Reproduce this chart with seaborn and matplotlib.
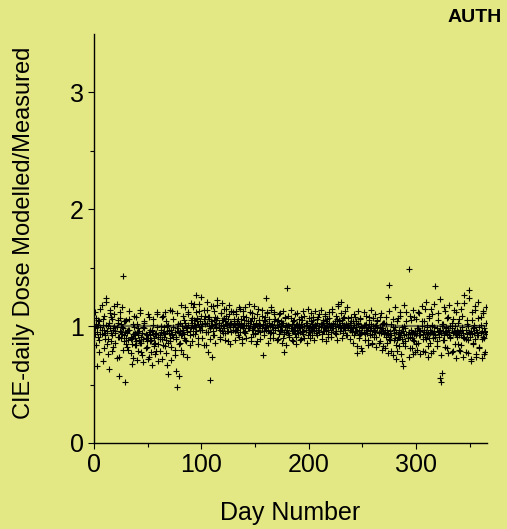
import pandas as pd
import matplotlib.pyplot as plt
import seaborn as sns

# Day numbers (x) and modelled/measured ratios, three readings per day
days = list(range(1, 366))

ratio_a = [
    0.98, 1.02, 0.95, 0.91, 1.04, 0.99, 0.93, 1.06, 0.97, 0.94,
    1.01, 0.96, 0.89, 1.03, 0.98, 1.08, 0.92, 0.97, 1.00, 0.94,
    0.99, 1.05, 0.91, 0.96, 1.02, 0.93, 0.98, 1.04, 0.95, 0.90,
    0.94, 0.88, 0.97, 0.91, 0.85, 0.93, 0.99, 0.90, 0.87, 0.95,
    0.92, 0.96, 0.86, 0.91, 0.94, 0.89, 0.98, 0.93, 0.87, 0.90,
    0.95, 0.92, 0.88, 0.97, 0.93, 0.90, 0.86, 0.94, 0.99, 0.91,
    0.92, 0.97, 0.89, 0.95, 0.99, 0.93, 0.88, 0.96, 1.01, 0.94,
    0.90, 0.97, 0.93, 0.99, 0.95, 0.91, 0.98, 1.02, 0.94, 0.96,
    0.92, 1.00, 0.97, 0.93, 1.03, 0.98, 0.95, 1.01, 0.96, 0.99,
    1.03, 0.98, 1.05, 1.01, 0.96, 1.07, 1.02, 0.99, 1.04, 1.00,
    0.97, 1.06, 1.02, 0.95, 1.03, 1.08, 1.00, 0.98, 1.04, 1.01,
    0.96, 1.05, 1.02, 0.99, 1.07, 1.03, 0.97, 1.01, 1.05, 1.00,
    0.98, 1.04, 1.02, 0.96, 1.06, 1.01, 0.99, 1.03, 0.97, 1.02,
    1.01, 0.97, 1.04, 0.99, 1.02, 0.95, 1.03, 1.00, 0.98, 1.05,
    0.96, 1.01, 1.03, 0.98, 1.00, 1.04, 0.97, 1.02, 0.99, 0.94,
    1.03, 1.00, 0.97, 1.05, 1.01, 0.98, 1.02, 0.96, 1.04, 0.99,
    1.01, 0.97, 1.03, 1.00, 0.95, 1.02, 0.99, 1.04, 0.98, 1.01,
    0.99, 1.02, 0.96, 1.00, 0.97, 1.03, 0.95, 0.99, 1.01, 0.97,
    0.94, 1.00, 0.98, 1.02, 0.96, 0.99, 0.93, 1.01, 0.97, 1.00,
    0.98, 0.95, 1.02, 0.99, 0.96, 1.00, 0.97, 1.03, 0.98, 0.95,
    1.00, 0.97, 1.02, 0.99, 0.96, 1.01, 0.98, 1.03, 0.97, 1.00,
    0.99, 1.02, 0.96, 1.01, 0.98, 1.04, 1.00, 0.97, 1.02, 0.99,
    1.01, 0.98, 1.03, 1.00, 0.96, 1.02, 0.99, 1.05, 1.01, 0.98,
    1.03, 0.99, 1.01, 0.97, 1.02, 1.00, 0.98, 1.03, 0.99, 0.96,
    0.98, 1.01, 0.95, 0.99, 0.96, 1.02, 0.97, 0.93, 1.00, 0.98,
    0.95, 1.01, 0.97, 0.94, 0.99, 1.02, 0.96, 0.98, 0.93, 1.00,
    0.97, 0.95, 1.01, 0.98, 0.94, 0.99, 0.96, 1.02, 0.97, 0.93,
    0.95, 0.91, 0.97, 0.93, 0.89, 0.96, 0.92, 0.99, 0.94, 0.90,
    0.95, 0.88, 0.93, 0.97, 0.91, 0.94, 0.89, 0.96, 0.92, 0.98,
    0.93, 0.90, 0.95, 0.91, 0.97, 0.94, 0.88, 0.93, 0.96, 0.92,
    0.94, 0.98, 0.92, 0.96, 1.00, 0.93, 0.97, 0.91, 0.95, 0.99,
    0.94, 0.90, 0.97, 0.95, 1.01, 0.93, 0.96, 0.92, 0.98, 0.95,
    0.91, 0.97, 0.94, 1.00, 0.96, 0.92, 0.95, 0.99, 0.93, 0.97,
    0.95, 0.91, 0.98, 0.94, 0.96, 1.00, 0.93, 0.97, 0.95, 0.92,
    0.96, 0.92, 0.99, 0.94, 0.90, 0.97, 0.93, 1.00, 0.95, 0.91,
    0.96, 0.93, 0.98, 0.94, 0.89, 0.97, 0.95, 0.92, 0.99, 0.94,
    0.96, 0.91, 0.98, 0.95, 0.93,
]

ratio_b = [
    1.12, 0.84, 0.99, 1.05, 0.78, 0.93, 1.18, 1.01, 0.81, 0.89,
    1.21, 0.96, 0.76, 1.03, 1.14, 0.87, 0.79, 0.98, 1.10, 0.86,
    1.19, 0.91, 0.74, 1.07, 0.95, 1.16, 0.80, 0.92, 1.04, 0.85,
    0.82, 0.97, 1.06, 0.77, 0.90, 0.73, 1.09, 0.94, 0.84, 1.02,
    0.79, 0.88, 1.11, 0.86, 0.75, 0.99, 1.04, 0.81, 0.92, 0.72,
    1.08, 0.87, 0.78, 0.96, 1.01, 0.83, 0.76, 0.93, 1.10, 0.85,
    0.79, 0.95, 1.08, 0.84, 0.91, 1.12, 0.77, 1.00, 0.86, 0.97,
    1.14, 0.82, 0.92, 1.06, 0.75, 0.89, 1.11, 0.96, 0.85, 1.03,
    0.80, 0.94, 1.09, 0.90, 1.16, 0.87, 0.98, 1.12, 0.84, 1.05,
    0.87, 1.16, 1.00, 0.93, 1.12, 1.06, 0.85, 1.19, 0.97, 1.09,
    0.90, 1.14, 1.03, 0.84, 1.21, 0.95, 1.08, 0.89, 1.17, 1.01,
    0.92, 1.13, 0.86, 1.05, 1.18, 0.98, 0.91, 1.11, 1.20, 0.94,
    1.07, 0.88, 1.15, 1.02, 0.96, 1.10, 0.85, 1.13, 0.99, 1.04,
    0.88, 1.13, 0.97, 1.06, 0.91, 1.15, 1.02, 0.86, 1.09, 0.95,
    1.16, 0.90, 1.04, 0.98, 1.12, 0.87, 1.07, 0.93, 1.17, 1.00,
    0.85, 1.10, 0.96, 1.05, 0.89, 1.14, 1.01, 0.92, 1.08, 0.97,
    1.11, 0.86, 1.03, 0.94, 1.16, 0.99, 0.90, 1.12, 1.06, 0.88,
    0.89, 1.10, 0.97, 1.04, 0.86, 1.13, 0.93, 1.07, 0.84, 1.00,
    1.09, 0.91, 1.14, 0.96, 0.87, 1.05, 0.99, 0.85, 1.11, 0.94,
    1.02, 0.88, 1.08, 0.95, 1.13, 0.90, 1.03, 0.86, 1.15, 0.98,
    0.90, 1.11, 0.97, 1.05, 0.88, 1.13, 1.00, 0.92, 1.08, 0.95,
    1.14, 0.89, 1.03, 0.96, 1.10, 0.87, 1.06, 0.93, 1.12, 0.99,
    0.91, 1.15, 1.02, 0.94, 1.09, 0.88, 1.17, 1.04, 0.96, 1.11,
    0.90, 1.07, 0.98, 1.13, 0.92, 1.16, 1.01, 0.89, 1.08, 0.95,
    0.86, 1.10, 0.96, 1.04, 0.83, 1.13, 0.92, 1.07, 0.81, 0.99,
    1.12, 0.88, 1.02, 0.94, 0.84, 1.08, 0.97, 1.14, 0.86, 1.00,
    0.91, 1.10, 0.82, 1.05, 0.95, 0.87, 1.11, 0.80, 1.03, 0.93,
    0.81, 1.08, 0.94, 0.77, 1.13, 0.88, 1.02, 0.75, 0.97, 1.16,
    0.84, 0.79, 1.07, 0.91, 1.12, 0.76, 0.99, 0.86, 1.18, 0.83,
    1.04, 0.90, 0.74, 1.09, 0.95, 0.81, 1.14, 0.87, 0.78, 1.06,
    0.80, 1.12, 0.97, 0.76, 1.17, 0.89, 1.04, 0.78, 1.21, 0.93,
    0.74, 1.09, 0.86, 1.15, 1.00, 0.79, 1.19, 0.91, 0.83, 1.11,
    0.96, 1.23, 0.75, 1.02, 0.88, 1.16, 0.82, 0.98, 1.07, 0.77,
    1.18, 0.90, 1.03, 0.79, 1.14, 0.94, 0.73, 1.20, 0.85, 1.06,
    0.79, 1.15, 0.97, 0.74, 1.20, 0.89, 1.05, 0.77, 1.24, 0.93,
    0.72, 1.12, 0.85, 1.01, 1.17, 0.76, 0.95, 1.21, 0.82, 1.08,
    0.73, 1.13, 0.90, 0.78, 1.16,
]

ratio_c = [
    0.93, 1.07, 0.66, 1.01, 0.88, 1.15, 0.97, 0.70, 1.09, 0.92,
    1.24, 0.85, 1.00, 0.63, 1.11, 0.94, 1.06, 0.82, 1.17, 0.96,
    0.73, 1.03, 0.57, 1.12, 0.90, 0.99, 1.43, 0.87, 0.52, 1.05,
    0.96, 0.80, 1.13, 0.89, 0.68, 1.02, 0.93, 0.84, 1.08, 0.71,
    0.98, 0.87, 1.14, 0.78, 0.94, 0.69, 1.03, 0.90, 0.82, 1.10,
    0.74, 0.97, 0.88, 0.67, 1.06, 0.85, 0.93, 0.79, 1.12, 0.70,
    0.89, 1.00, 0.72, 1.09, 0.94, 0.83, 1.04, 0.67, 0.59, 0.96,
    0.87, 0.71, 1.13, 0.91, 0.80, 0.62, 0.48, 1.02, 0.57, 0.86,
    1.18, 0.93, 0.76, 1.05, 0.88, 0.99, 0.74, 1.10, 0.92, 1.20,
    1.07, 0.93, 1.19, 0.99, 1.27, 1.04, 0.90, 1.13, 0.97, 1.25,
    1.02, 0.84, 1.09, 0.95, 1.14, 0.78, 1.06, 0.54, 1.00, 0.74,
    1.17, 0.92, 1.08, 0.98, 1.22, 1.03, 0.89, 1.11, 0.96, 1.05,
    1.15, 0.94, 1.09, 1.01, 0.87, 1.18, 1.03, 0.95, 1.12, 1.06,
    0.96, 1.10, 1.03, 0.92, 1.16, 0.99, 1.06, 0.89, 1.13, 1.01,
    0.94, 1.08, 0.98, 1.19, 1.04, 0.91, 1.11, 0.97, 1.07, 0.93,
    1.02, 0.87, 1.15, 1.00, 0.95, 1.09, 0.75, 1.05, 0.98, 1.24,
    1.12, 0.96, 1.06, 0.90, 1.14, 1.01, 0.94, 1.10, 0.97, 1.04,
    1.05, 0.93, 1.11, 0.97, 1.03, 0.90, 0.78, 1.08, 0.95, 1.33,
    1.01, 0.92, 1.07, 0.88, 1.04, 0.96, 1.10, 0.91, 1.02, 0.94,
    1.06, 0.99, 0.89, 1.05, 0.93, 1.09, 0.97, 1.01, 0.92, 1.07,
    0.95, 1.04, 0.92, 1.08, 0.98, 1.01, 0.94, 1.06, 0.97, 1.10,
    1.02, 0.93, 1.05, 0.99, 1.09, 0.96, 1.03, 0.91, 1.07, 1.00,
    0.95, 1.12, 0.98, 1.04, 0.93, 1.06, 1.19, 1.01, 0.96, 1.21,
    1.05, 0.94, 1.08, 0.99, 1.02, 0.92, 1.07, 0.97, 1.04, 0.95,
    1.04, 0.92, 1.08, 0.96, 0.77, 1.03, 0.90, 1.06, 0.94, 0.79,
    1.01, 0.93, 1.09, 0.97, 0.88, 1.05, 0.92, 1.02, 0.85, 1.07,
    0.96, 1.00, 0.91, 1.04, 0.86, 1.08, 0.94, 0.98, 0.83, 1.03,
    0.97, 1.02, 0.86, 1.25, 1.35, 0.92, 0.79, 1.06, 0.88, 0.99,
    0.72, 1.04, 0.91, 0.83, 1.09, 0.95, 0.70, 0.66, 1.00, 0.87,
    1.12, 0.93, 1.49, 0.81, 1.05, 0.90, 0.76, 1.08, 0.94, 0.85,
    0.98, 0.86, 1.11, 0.92, 1.04, 0.79, 0.95, 1.15, 0.89, 1.01,
    0.83, 1.07, 0.94, 0.77, 1.10, 0.90, 0.99, 1.34, 0.87, 1.05,
    0.93, 0.56, 0.52, 0.60, 1.02, 0.88, 1.13, 0.96, 0.81, 1.08,
    0.92, 1.00, 0.78, 1.06, 0.95, 0.85, 1.12, 0.91, 1.03, 0.80,
    0.97, 0.84, 1.09, 0.91, 1.27, 0.78, 1.02, 0.88, 1.31, 0.94,
    0.70, 1.05, 0.86, 0.99, 1.14, 0.74, 0.92, 1.07, 0.81, 1.01,
    0.89, 1.11, 0.76, 0.96, 1.03,
]

df = pd.DataFrame({
    "Day": days * 3,
    "Ratio": ratio_a + ratio_b + ratio_c,
})

bg = "#e3e885"
sns.set_theme(style="ticks")
plt.rcParams["font.family"] = ["Liberation Sans", "DejaVu Sans"]
plt.rcParams["text.color"] = "black"

fig = plt.figure(figsize=(5.07, 5.29), dpi=100, facecolor=bg)
ax = fig.add_axes([94 / 507, 1 - 443 / 529, 393 / 507, 409 / 529])
ax.set_facecolor(bg)

# reference line at ratio = 1
ax.axhline(1, color="#55553f", lw=1.6, alpha=0.85, zorder=1)
sns.scatterplot(data=df, x="Day", y="Ratio", marker="+", color="black",
                s=14, linewidth=0.8, ax=ax, zorder=2)

ax.set_xlim(0, 366)
ax.set_ylim(0, 3.5)
ax.set_xticks([0, 100, 200, 300])
ax.set_xticks([50, 150, 250, 350], minor=True)
ax.set_yticks([0, 1, 2, 3])
ax.set_yticks([0.5, 1.5, 2.5], minor=True)
ax.tick_params(which="major", direction="out", length=4.5, width=0.8,
               color="black", labelcolor="black", labelsize=18, pad=3)
ax.tick_params(which="minor", direction="out", length=2.8, width=0.8,
               color="black")
for side in ["top", "right"]:
    ax.spines[side].set_visible(False)
for side in ["left", "bottom"]:
    ax.spines[side].set_color("black")
    ax.spines[side].set_linewidth(1.0)

ax.set_xlabel("Day Number", fontsize=18, color="black")
ax.set_ylabel("CIE-daily Dose Modelled/Measured", fontsize=17, color="black")
ax.xaxis.set_label_coords(0.5, -0.143)
ax.yaxis.set_label_coords(-0.15, 0.515)

fig.text(448 / 507, 1 - 9 / 529, "AUTH", fontsize=14, fontweight="bold",
         ha="left", va="top", color="black")

fig.savefig("out.png", dpi=100, facecolor=bg)
